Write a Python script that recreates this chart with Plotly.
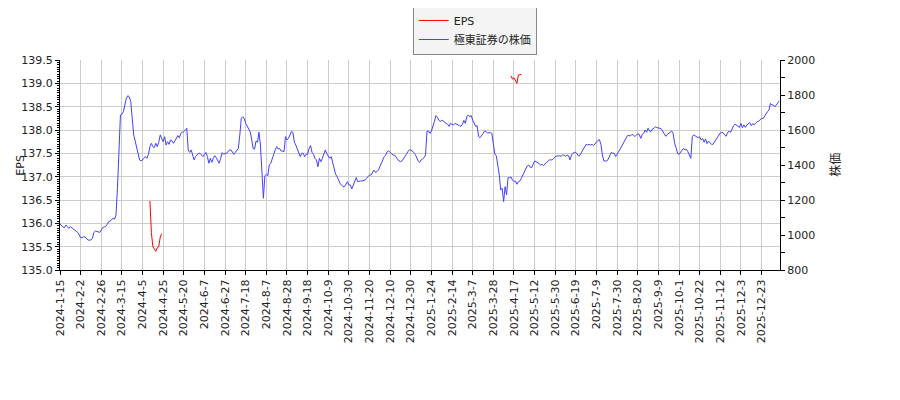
import plotly.graph_objects as go

# Trading-day index axis: one price per trading day, 2024-01-15 .. early 2026
price = [
    1063, 1053, 1046, 1042, 1057, 1048, 1038, 1048, 1042, 1034, 1029, 1023, 1015, 1000,
    985, 985, 990, 989, 977, 971, 971, 971, 981, 1015, 1023, 1019, 1019, 1015,
    1029, 1042, 1046, 1048, 1061, 1076, 1080, 1086, 1095, 1091, 1114, 1267, 1533, 1686,
    1690, 1705, 1743, 1781, 1796, 1790, 1762, 1648, 1572, 1537, 1495, 1457, 1429, 1423,
    1429, 1438, 1448, 1438, 1461, 1505, 1524, 1505, 1499, 1524, 1505, 1530, 1572, 1552,
    1533, 1562, 1514, 1533, 1518, 1543, 1537, 1524, 1537, 1549, 1568, 1556, 1581, 1587,
    1591, 1600, 1610, 1486, 1472, 1486, 1448, 1429, 1448, 1461, 1467, 1467, 1457, 1448,
    1461, 1472, 1448, 1410, 1438, 1415, 1438, 1453, 1442, 1423, 1410, 1438, 1471, 1461,
    1467, 1467, 1480, 1486, 1486, 1476, 1461, 1472, 1486, 1495, 1572, 1667, 1676, 1665,
    1638, 1619, 1600, 1591, 1549, 1495, 1491, 1537, 1530, 1587, 1514, 1381, 1210, 1339,
    1347, 1339, 1400, 1410, 1438, 1467, 1486, 1505, 1491, 1495, 1480, 1480, 1476, 1562,
    1543, 1552, 1572, 1591, 1587, 1530, 1514, 1495, 1476, 1448, 1467, 1467, 1448, 1461,
    1461, 1495, 1511, 1472, 1461, 1438, 1429, 1390, 1438, 1419, 1438, 1461, 1486, 1465,
    1448, 1438, 1448, 1415, 1371, 1347, 1333, 1309, 1295, 1286, 1276, 1276, 1295, 1305,
    1286, 1286, 1263, 1286, 1314, 1328, 1305, 1309, 1309, 1309, 1312, 1314, 1324, 1333,
    1343, 1343, 1354, 1371, 1358, 1362, 1371, 1390, 1410, 1432, 1448, 1457, 1476, 1480,
    1472, 1461, 1457, 1457, 1448, 1434, 1423, 1419, 1423, 1434, 1448, 1461, 1476, 1486,
    1486, 1480, 1472, 1461, 1442, 1423, 1415, 1429, 1434, 1442, 1457, 1594, 1594, 1581,
    1594, 1619, 1648, 1682, 1674, 1657, 1648, 1657, 1651, 1648, 1638, 1632, 1621, 1638,
    1632, 1629, 1638, 1632, 1629, 1625, 1621, 1632, 1655, 1638, 1676, 1686, 1676, 1682,
    1657, 1642, 1621, 1625, 1562, 1556, 1572, 1579, 1594, 1591, 1583, 1585, 1585, 1581,
    1524, 1463, 1453, 1404, 1347, 1257, 1267, 1191, 1276, 1230, 1328, 1328, 1331, 1314,
    1305, 1309, 1290, 1305, 1309, 1324, 1339, 1358, 1377, 1394, 1400, 1387, 1385, 1404,
    1423, 1419, 1415, 1408, 1400, 1404, 1396, 1408, 1415, 1419, 1430, 1429, 1429, 1438,
    1448, 1451, 1453, 1453, 1450, 1457, 1457, 1450, 1457, 1453, 1429, 1457, 1467, 1472,
    1472, 1457, 1450, 1461, 1476, 1491, 1507, 1518, 1514, 1518, 1514, 1518, 1511, 1522,
    1530, 1541, 1545, 1518, 1457, 1423, 1423, 1423, 1434, 1457, 1472, 1467, 1467, 1448,
    1467, 1476, 1491, 1505, 1524, 1533, 1552, 1568, 1568, 1566, 1575, 1572, 1562, 1572,
    1579, 1575, 1552, 1575, 1581, 1600, 1587, 1610, 1594, 1591, 1606, 1610, 1619, 1613,
    1613, 1610, 1606, 1591, 1572, 1564, 1575, 1581, 1591, 1594, 1581, 1524, 1499, 1467,
    1461, 1472, 1482, 1495, 1486, 1490, 1476, 1457, 1438, 1562, 1572, 1566, 1562, 1556,
    1562, 1543, 1552, 1530, 1549, 1522, 1537, 1524, 1518, 1518, 1530, 1543, 1556, 1572,
    1583, 1587, 1583, 1572, 1564, 1587, 1592, 1587, 1613, 1625, 1634, 1629, 1625, 1615,
    1638, 1613, 1629, 1615, 1629, 1634, 1642, 1625, 1636, 1630, 1638, 1648, 1650, 1659,
    1667, 1665, 1680, 1690, 1705, 1714, 1752, 1743, 1743, 1732, 1743, 1752, 1766,
]
days = list(range(len(price)))

# EPS, two short stretches (trading-day index)
eps_day_1 = [61, 62, 63, 64, 65, 66, 67, 68, 69]
eps_val_1 = [136.48, 135.8, 135.5, 135.45, 135.4, 135.48, 135.5, 135.7, 135.78]
eps_day_2 = [306, 307, 308, 309, 310, 311, 312, 313]
eps_val_2 = [139.16, 139.09, 139.12, 139.06, 139.0, 139.18, 139.19, 139.19]

tick_step = 14
tick_labels = [
    '2024-1-15', '2024-2-2', '2024-2-26', '2024-3-15', '2024-4-5', '2024-4-25',
    '2024-5-20', '2024-6-7', '2024-6-27', '2024-7-18', '2024-8-7', '2024-8-28',
    '2024-9-18', '2024-10-9', '2024-10-30', '2024-11-20', '2024-12-10', '2024-12-30',
    '2025-1-24', '2025-2-14', '2025-3-7', '2025-3-28', '2025-4-17', '2025-5-12',
    '2025-5-30', '2025-6-19', '2025-7-9', '2025-7-30', '2025-8-20', '2025-9-9',
    '2025-10-1', '2025-10-22', '2025-11-12', '2025-12-3', '2025-12-23',
]
tick_vals = [i * tick_step for i in range(len(tick_labels))]

font_main = 'DejaVu Sans, Noto Sans CJK JP, sans-serif'

fig = go.Figure()

fig.add_trace(go.Scatter(
    x=eps_day_1 + [None] + eps_day_2,
    y=eps_val_1 + [None] + eps_val_2,
    mode='lines',
    name='EPS',
    line=dict(color='#ff0000', width=1),
    yaxis='y',
))

fig.add_trace(go.Scatter(
    x=days,
    y=price,
    mode='lines',
    name='極東証券の株価',
    line=dict(color='#4040ff', width=1),
    yaxis='y2',
))

# the page body adds an 8px offset, margins compensate for it
fig.update_layout(
    width=900,
    height=400,
    margin=dict(l=52, r=128, t=52, b=138, autoexpand=False),
    plot_bgcolor='white',
    paper_bgcolor='white',
    font=dict(family=font_main, size=11, color='#222'),
    showlegend=True,
    legend=dict(
        x=0.576, y=1.262, xanchor='center', yanchor='top',
        bgcolor='#f4f4f4', bordercolor='#888', borderwidth=1,
        font=dict(family=font_main, size=11),
        itemwidth=30,
    ),
    xaxis=dict(
        range=[0, 488.5],
        tickvals=tick_vals,
        ticktext=tick_labels,
        tickangle=-90,
        ticks='outside', ticklen=4, tickcolor='black',
        showgrid=True, gridcolor='#cccccc', gridwidth=1,
        showline=True, linecolor='black', linewidth=1,
        zeroline=False,
        tickfont=dict(size=11),
    ),
    yaxis=dict(
        range=[135, 139.5],
        dtick=0.5,
        tickformat='.1f',
        ticks='outside', ticklen=4, tickcolor='black',
        minor=dict(dtick=0.05, ticks='outside', ticklen=2, tickcolor='black', showgrid=False),
        showgrid=True, gridcolor='#cccccc', gridwidth=1,
        showline=True, linecolor='black', linewidth=1,
        zeroline=False,
        tickfont=dict(size=11),
    ),
    yaxis2=dict(
        range=[800, 2000],
        dtick=200,
        overlaying='y',
        side='right',
        ticks='outside', ticklen=4, tickcolor='black',
        minor=dict(dtick=100, ticks='outside', ticklen=4, tickcolor='black', showgrid=False),
        showgrid=False,
        showline=True, linecolor='black', linewidth=1,
        zeroline=False,
        tickfont=dict(size=11),
    ),
    annotations=[
        dict(text='EPS', x=-0.056, y=0.5, xref='paper', yref='paper',
             xanchor='center', yanchor='middle',
             textangle=-90, showarrow=False, font=dict(size=11)),
        dict(text='株価', x=1.076, y=0.5, xref='paper', yref='paper',
             xanchor='center', yanchor='middle',
             textangle=-90, showarrow=False, font=dict(size=12)),
    ],
)

fig.write_html("out.html")
